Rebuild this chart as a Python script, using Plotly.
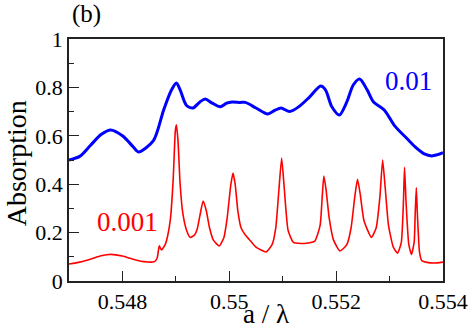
import plotly.graph_objects as go

# gamma = 0.01 curve
x_01 = [0.5470, 0.5472, 0.5474, 0.5476, 0.54778, 0.5480, 0.5482, 0.5483, 0.54858, 0.54877,
        0.54892, 0.54901, 0.54908, 0.5492, 0.54932, 0.54945, 0.54955, 0.54968, 0.54983, 0.54995,
        0.55005, 0.5502, 0.5503, 0.5505, 0.55072, 0.55085, 0.55097, 0.55113, 0.5513, 0.5515,
        0.55171, 0.5518, 0.55192, 0.55206, 0.5522, 0.55232, 0.55244, 0.55258, 0.5527, 0.5529,
        0.5531, 0.55332, 0.5535, 0.55365, 0.55379, 0.5539, 0.5540]
y_01 = [0.500, 0.515, 0.560, 0.605, 0.624, 0.600, 0.555, 0.533, 0.580, 0.706,
        0.790, 0.818, 0.790, 0.725, 0.715, 0.740, 0.752, 0.735, 0.720, 0.735,
        0.740, 0.738, 0.738, 0.715, 0.690, 0.705, 0.715, 0.700, 0.720, 0.760,
        0.806, 0.790, 0.720, 0.686, 0.740, 0.810, 0.835, 0.790, 0.740, 0.707,
        0.640, 0.590, 0.550, 0.525, 0.517, 0.522, 0.530]

# gamma = 0.001 curve
x_001 = [0.5470, 0.5472, 0.5474, 0.5476, 0.54778, 0.5480, 0.5482, 0.5484, 0.5486, 0.54865,
         0.54869, 0.54873, 0.5488, 0.54885, 0.5489, 0.54895, 0.54899, 0.54901, 0.54904, 0.54908,
         0.54913, 0.5492, 0.54927, 0.54935, 0.5494, 0.54945, 0.54951, 0.54957, 0.54963, 0.5497,
         0.54981, 0.5499, 0.54996, 0.55003, 0.55007, 0.55011, 0.55016, 0.55022, 0.5503, 0.5504,
         0.5505, 0.55069, 0.5508, 0.55087, 0.55093, 0.55098, 0.55103, 0.5511, 0.5512, 0.5514,
         0.5516, 0.5517, 0.55174, 0.55177, 0.55181, 0.55187, 0.55195, 0.55207, 0.5522, 0.55228,
         0.55235, 0.5524, 0.55245, 0.55252, 0.55266, 0.55275, 0.55282, 0.55287, 0.55292, 0.55298,
         0.55307, 0.55315, 0.55322, 0.55326, 0.55328, 0.55331, 0.55336, 0.55341, 0.55346, 0.55348,
         0.5535, 0.55352, 0.55356, 0.5536, 0.5537, 0.5539, 0.5540]
y_001 = [0.070, 0.078, 0.090, 0.104, 0.110, 0.103, 0.090, 0.080, 0.080, 0.095,
         0.145, 0.128, 0.150, 0.190, 0.260, 0.420, 0.620, 0.645, 0.580, 0.400,
         0.280, 0.210, 0.180, 0.190, 0.215, 0.270, 0.330, 0.290, 0.220, 0.170,
         0.145, 0.180, 0.260, 0.400, 0.446, 0.400, 0.290, 0.220, 0.190, 0.165,
         0.140, 0.120, 0.150, 0.220, 0.380, 0.508, 0.380, 0.210, 0.160, 0.155,
         0.165, 0.230, 0.350, 0.434, 0.380, 0.260, 0.170, 0.124, 0.150, 0.220,
         0.350, 0.420, 0.360, 0.250, 0.180, 0.220, 0.350, 0.500, 0.380, 0.230,
         0.140, 0.115, 0.160, 0.330, 0.470, 0.320, 0.150, 0.110, 0.160, 0.280,
         0.385, 0.280, 0.120, 0.085, 0.077, 0.075, 0.078]

x_ticks = [0.548, 0.550, 0.552, 0.554]
x_labels = ["0.548", "0.55", "0.552", "0.554"]
y_ticks = [0, 0.2, 0.4, 0.6, 0.8, 1]
y_labels = ["0", "0.2", "0.4", "0.6", "0.8", "1"]

serif = "Liberation Serif, Times New Roman, Times, serif"

fig = go.Figure()
fig.add_trace(go.Scatter(x=x_01, y=y_01, mode="lines", line=dict(color="#0000ff", width=3, shape="spline", smoothing=0.8)))
fig.add_trace(go.Scatter(x=x_001, y=y_001, mode="lines", line=dict(color="#ff0000", width=1.6, shape="spline", smoothing=0.5)))

axis_common = dict(
    showgrid=False, zeroline=False, showline=True, linecolor="#222", linewidth=1.5, mirror=True,
    ticks="inside", ticklen=10, tickwidth=1.3, tickcolor="#222", automargin=False,
    tickfont=dict(family=serif, size=22, color="black"),
)
fig.update_xaxes(range=[0.547, 0.554], tickvals=x_ticks, ticktext=x_labels,
                 minor=dict(ticks="inside", ticklen=5, tickwidth=1.3, tickcolor="#222", dtick=0.001, tick0=0.547),
                 **axis_common)
fig.update_yaxes(range=[0, 1], tickvals=y_ticks, ticktext=y_labels,
                 minor=dict(ticks="inside", ticklen=5, tickwidth=1.3, tickcolor="#222", dtick=0.1, tick0=0),
                 **axis_common)

fig.update_layout(
    width=473, height=330, showlegend=False,
    margin=dict(l=69, r=30, t=39, b=49),
    plot_bgcolor="white", paper_bgcolor="white",
    annotations=[
        dict(text="(b)", x=0.048, y=1.103, xref="paper", yref="paper", xanchor="center", yanchor="middle",
             showarrow=False, font=dict(family=serif, size=25, color="black")),
        dict(text="0.01", x=0.55336, y=0.826, xref="x", yref="y", xanchor="center", yanchor="middle",
             showarrow=False, font=dict(family=serif, size=27, color="#0000ff")),
        dict(text="0.001", x=0.548093, y=0.242, xref="x", yref="y", xanchor="center", yanchor="middle",
             showarrow=False, font=dict(family=serif, size=27, color="#ff0000")),
        dict(text="a / λ", x=0.527, y=-0.135, xref="paper", yref="paper", xanchor="center", yanchor="middle",
             showarrow=False, font=dict(family=serif, size=27, color="black")),
        dict(text="Absorption", x=-0.142, y=0.486, xref="paper", yref="paper", xanchor="center", yanchor="middle",
             textangle=-90, showarrow=False, borderpad=0, font=dict(family=serif, size=28, color="black")),
    ],
)

fig.write_html("out.html", config={"displayModeBar": False},
               post_script="document.body.style.margin='0';")
